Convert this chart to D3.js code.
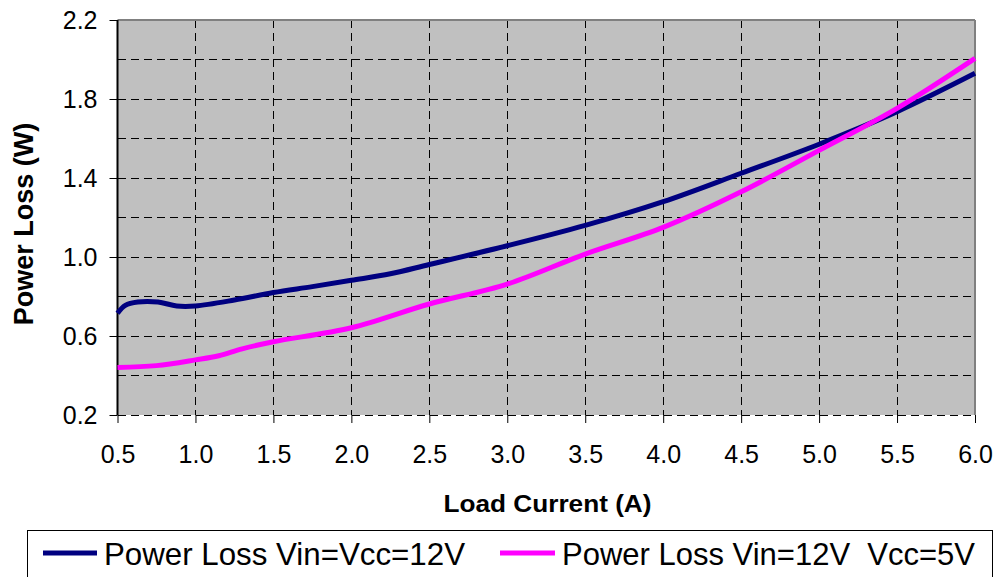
<!DOCTYPE html>
<html>
<head>
<meta charset="utf-8">
<script src="https://cdn.jsdelivr.net/npm/d3@7/dist/d3.min.js"></script>
<style>
  html, body { margin: 0; padding: 0; background: #fff; }
  svg { display: block; }
  text { font-family: "Liberation Sans", Arial, sans-serif; fill: #000; }
</style>
</head>
<body>
<svg id="chart" width="995" height="577"></svg>
<script>
// ---- Data ----
const navyX = [0.5, 0.55, 0.63, 0.76, 0.88, 1.0, 1.25, 1.5, 1.75, 2.0, 2.25, 2.5, 3.0, 3.5, 4.0, 4.5, 5.0, 5.5, 6.0];
const navyY = [0.715, 0.755, 0.772, 0.772, 0.752, 0.752, 0.782, 0.82, 0.85, 0.882, 0.915, 0.962, 1.057, 1.16, 1.28, 1.424, 1.571, 1.736, 1.93];
const magX = [0.5, 0.75, 1.0, 1.15, 1.3, 1.5, 2.0, 2.5, 3.0, 3.5, 4.0, 4.5, 5.0, 5.5, 6.0];
const magY = [0.441, 0.45, 0.479, 0.5, 0.535, 0.571, 0.642, 0.762, 0.863, 1.015, 1.15, 1.33, 1.54, 1.753, 2.006];
const xTicks = [0.5, 1.0, 1.5, 2.0, 2.5, 3.0, 3.5, 4.0, 4.5, 5.0, 5.5, 6.0];
const yTicks = [0.2, 0.6, 1.0, 1.4, 1.8, 2.2];
const yGrid = [0.2, 0.4, 0.6, 0.8, 1.0, 1.2, 1.4, 1.6, 1.8, 2.0, 2.2];
const seriesNames = ["Power Loss Vin=Vcc=12V", "Power Loss Vin=12V  Vcc=5V"];
const seriesColors = ["#000080", "#FF00FF"];
const xTitle = "Load Current (A)";
const yTitle = "Power Loss (W)";

// ---- Layout ----
const L = 117.5, R = 975, T = 20, B = 415;
const svg = d3.select("#chart");
const x = d3.scaleLinear().domain([0.5, 6.0]).range([L, R]);
const y = d3.scaleLinear().domain([0.2, 2.2]).range([B, T]);

// plot background
svg.append("rect").attr("x", L).attr("y", T).attr("width", R - L).attr("height", B - T)
  .attr("fill", "#C0C0C0");

// horizontal grid
svg.append("g").selectAll("line").data(yGrid.filter(v => v < 2.2)).join("line")
  .attr("x1", L).attr("x2", R).attr("y1", d => y(d)).attr("y2", d => y(d))
  .attr("stroke", "#000").attr("stroke-width", 1).attr("stroke-dasharray", "8,5")
  .attr("shape-rendering", "crispEdges");
// vertical grid
svg.append("g").selectAll("line").data(xTicks.filter(v => v > 0.5 && v < 6.0)).join("line")
  .attr("x1", d => x(d)).attr("x2", d => x(d)).attr("y1", T).attr("y2", B)
  .attr("stroke", "#000").attr("stroke-width", 1).attr("stroke-dasharray", "8,5")
  .attr("shape-rendering", "crispEdges");

// top and right borders (grey)
svg.append("line").attr("x1", L).attr("x2", R).attr("y1", T).attr("y2", T)
  .attr("stroke", "#808080").attr("stroke-width", 2);
svg.append("line").attr("x1", R).attr("x2", R).attr("y1", T).attr("y2", B)
  .attr("stroke", "#808080").attr("stroke-width", 2);

// axes
const xAxis = d3.axisBottom(x).tickValues(xTicks).tickFormat(d3.format(".1f")).tickSize(8).tickPadding(22);
const gx = svg.append("g").attr("transform", `translate(0,${B})`).call(xAxis);
gx.select(".domain").remove();
gx.selectAll(".tick line").attr("stroke", "#000");
gx.selectAll(".tick text").attr("font-size", 25).attr("font-family", "Liberation Sans, Arial, sans-serif");

const yAxis = d3.axisLeft(y).tickValues(yTicks).tickFormat(d3.format(".1f")).tickSize(8).tickPadding(12);
const gy = svg.append("g").attr("transform", `translate(${L},0)`).call(yAxis);
gy.select(".domain").attr("stroke", "#000").attr("stroke-width", 2).attr("d", `M0,${T}V${B}`);
gy.selectAll(".tick line").attr("stroke", "#000");
gy.selectAll(".tick text").attr("font-size", 25).attr("font-family", "Liberation Sans, Arial, sans-serif");

// lines
const line = d3.line().x(d => x(d[0])).y(d => y(d[1])).curve(d3.curveCatmullRom.alpha(0.5));
const series = [
  navyX.map((v, i) => [v, navyY[i]]),
  magX.map((v, i) => [v, magY[i]])
];
series.forEach((s, i) => {
  svg.append("path").datum(s).attr("d", line).attr("fill", "none")
    .attr("stroke", seriesColors[i]).attr("stroke-width", 5)
    .attr("stroke-linejoin", "round").attr("stroke-linecap", "butt");
});

// axis titles
svg.append("text").attr("x", 547.5).attr("y", 512).attr("text-anchor", "middle")
  .attr("font-size", 24).attr("font-weight", "bold").attr("textLength", 208)
  .attr("lengthAdjust", "spacingAndGlyphs").text(xTitle);
svg.append("text").attr("transform", "translate(33,224) rotate(-90)").attr("text-anchor", "middle")
  .attr("font-size", 27).attr("font-weight", "bold").text(yTitle);

// legend
svg.append("rect").attr("x", 27.5).attr("y", 530.5).attr("width", 965).attr("height", 60)
  .attr("fill", "#fff").attr("stroke", "#000").attr("stroke-width", 1);
const legItems = [
  { x1: 43, x2: 97, tx: 104, tl: 361 },
  { x1: 500, x2: 555, tx: 562, tl: 413 }
];
legItems.forEach((it, i) => {
  svg.append("line").attr("x1", it.x1).attr("x2", it.x2).attr("y1", 553).attr("y2", 553)
    .attr("stroke", seriesColors[i]).attr("stroke-width", 5);
  svg.append("text").attr("x", it.tx).attr("y", 565).attr("font-size", 32)
    .attr("textLength", it.tl).attr("lengthAdjust", "spacingAndGlyphs")
    .style("white-space", "pre").attr("xml:space", "preserve").text(seriesNames[i]);
});
</script>
</body>
</html>
